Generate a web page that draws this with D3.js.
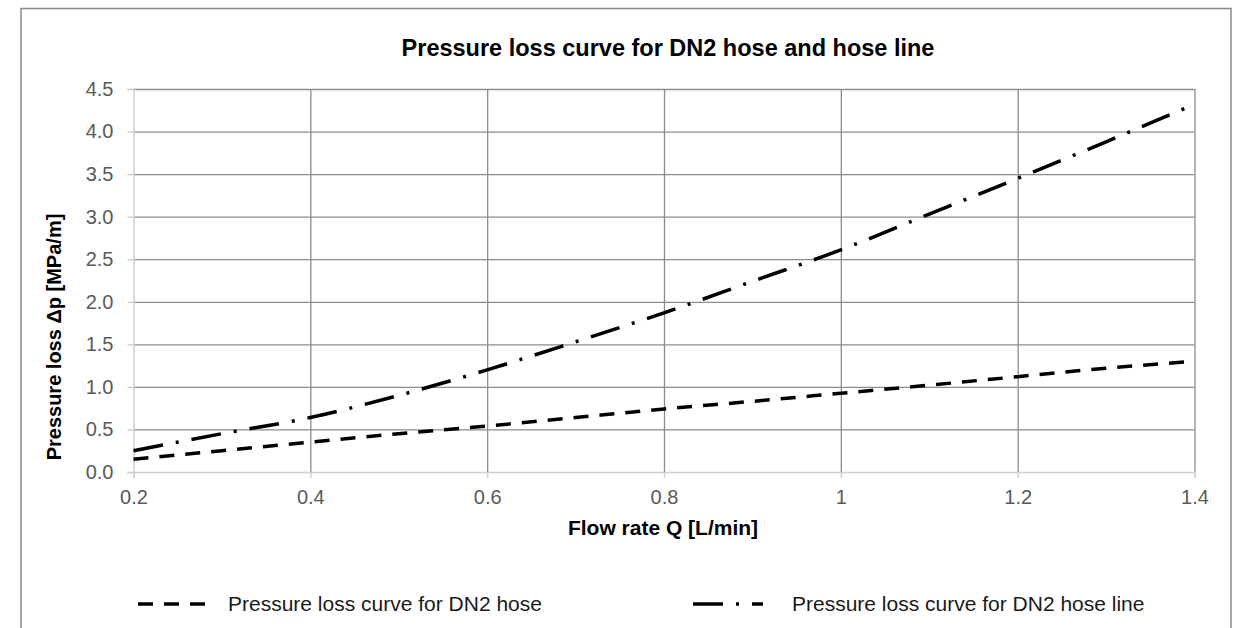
<!DOCTYPE html>
<html>
<head>
<meta charset="utf-8">
<script src="https://cdn.jsdelivr.net/npm/d3@7"></script>
<style>
  body { margin: 0; background: #fff; }
  svg { font-family: "Liberation Sans", Arial, sans-serif; }
</style>
</head>
<body>
<div id="container"></div>
<script>
/* DATA */
const flowRate = [0.2, 0.3, 0.4, 0.5, 0.6, 0.7, 0.8, 0.9, 1.0, 1.1, 1.2, 1.3, 1.4];
const hoseLoss = [0.15, 0.25, 0.35, 0.45, 0.54, 0.64, 0.74, 0.83, 0.925, 1.02, 1.12, 1.22, 1.30];
const hoseLineLoss = [0.25, 0.45, 0.64, 0.90, 1.20, 1.53, 1.87, 2.24, 2.61, 3.03, 3.45, 3.88, 4.32];
const xTicks = [0.2, 0.4, 0.6, 0.8, 1.0, 1.2, 1.4];
const yTicks = [0, 0.5, 1, 1.5, 2, 2.5, 3, 3.5, 4, 4.5];
const seriesNames = ["Pressure loss curve for DN2 hose", "Pressure loss curve for DN2 hose line"];

/* CONSTANTS */
const width = 1239;
const height = 628;
const plot = { left: 133.5, right: 1194.5, top: 89, bottom: 472 };
const gridColor = "#8c8c8c";
const axisColor = "#d0d0d0";

const svg = d3.select("#container")
  .append("svg")
  .attr("width", width)
  .attr("height", height);

// chart frame
svg.append("rect")
  .attr("x", 21).attr("y", 8.5)
  .attr("width", 1210).attr("height", 700)
  .attr("fill", "none")
  .attr("stroke", "#8a8a8a")
  .attr("stroke-width", 1.5);

/* SCALES */
const xScale = d3.scaleLinear()
  .domain([0.2, 1.4])
  .range([plot.left, plot.right]);

const yScale = d3.scaleLinear()
  .domain([0, 4.5])
  .range([plot.bottom, plot.top]);

// gridlines
svg.append("g")
  .attr("transform", `translate(0, ${plot.bottom})`)
  .call(d3.axisBottom(xScale).tickValues(xTicks.slice(1)).tickSize(-(plot.bottom - plot.top)).tickFormat(""))
  .call(g => g.select(".domain").remove())
  .selectAll("line").attr("stroke", gridColor).attr("stroke-width", 1.3);

svg.append("g")
  .attr("transform", `translate(${plot.left}, 0)`)
  .call(d3.axisLeft(yScale).tickValues(yTicks.slice(1)).tickSize(-(plot.right - plot.left)).tickFormat(""))
  .call(g => g.select(".domain").remove())
  .selectAll("line").attr("stroke", gridColor).attr("stroke-width", 1.3);

// axes
const xAxis = svg.append("g")
  .attr("transform", `translate(0, ${plot.bottom})`)
  .call(d3.axisBottom(xScale).tickValues(xTicks).tickSizeOuter(0).tickSize(6).tickPadding(12)
    .tickFormat(d => d === 1 ? "1" : d3.format(".1f")(d)));
xAxis.select(".domain").attr("stroke", axisColor).attr("stroke-width", 1.5);
xAxis.selectAll("line").attr("stroke", axisColor).attr("stroke-width", 1.5);
xAxis.selectAll("text").attr("fill", "#595959").style("font-size", "20px");

const yAxis = svg.append("g")
  .attr("transform", `translate(${plot.left}, 0)`)
  .call(d3.axisLeft(yScale).tickValues(yTicks).tickSizeOuter(0).tickSize(6).tickPadding(14)
    .tickFormat(d3.format(".1f")));
yAxis.select(".domain").attr("stroke", axisColor).attr("stroke-width", 1.5);
yAxis.selectAll("line").attr("stroke", axisColor).attr("stroke-width", 1.5);
yAxis.selectAll("text").attr("fill", "#595959").style("font-size", "20px");

/* LINES */
const line = d3.line()
  .x(d => xScale(d[0]))
  .y(d => yScale(d[1]))
  .curve(d3.curveMonotoneX);

const series = [
  { name: seriesNames[0], values: hoseLoss, dash: "15,11" },
  { name: seriesNames[1], values: hoseLineLoss, dash: "30,13,3,13" }
];

svg.selectAll(".series")
  .data(series)
  .join("path")
  .attr("class", "series")
  .attr("d", d => line(flowRate.map((q, i) => [q, d.values[i]])))
  .attr("fill", "none")
  .attr("stroke", "#000")
  .attr("stroke-width", 3.5)
  .attr("stroke-dasharray", d => d.dash);

/* TEXT */
svg.append("text")
  .attr("x", 668).attr("y", 56)
  .attr("text-anchor", "middle")
  .style("font-size", "23.5px").style("font-weight", "bold")
  .text("Pressure loss curve for DN2 hose and hose line");

svg.append("text")
  .attr("x", 663).attr("y", 535)
  .attr("text-anchor", "middle")
  .style("font-size", "21px").style("font-weight", "bold")
  .text("Flow rate Q [L/min]");

svg.append("text")
  .attr("transform", "translate(61, 337) rotate(-90)")
  .attr("text-anchor", "middle")
  .style("font-size", "20px").style("font-weight", "bold")
  .text("Pressure loss Δp [MPa/m]");

/* LEGEND */
const legendX = [138, 693];
const legend = svg.selectAll(".legend")
  .data(series)
  .join("g")
  .attr("class", "legend")
  .attr("transform", (d, i) => `translate(${legendX[i]}, 604)`);

legend.append("line")
  .attr("x1", 0).attr("x2", 70)
  .attr("stroke", "#000")
  .attr("stroke-width", 3.5)
  .attr("stroke-dasharray", d => d.dash);

legend.append("text")
  .attr("x", (d, i) => i === 0 ? 90 : 99)
  .attr("y", 7)
  .style("font-size", "21px")
  .attr("fill", "#1a1a1a")
  .text(d => d.name);
</script>
</body>
</html>
